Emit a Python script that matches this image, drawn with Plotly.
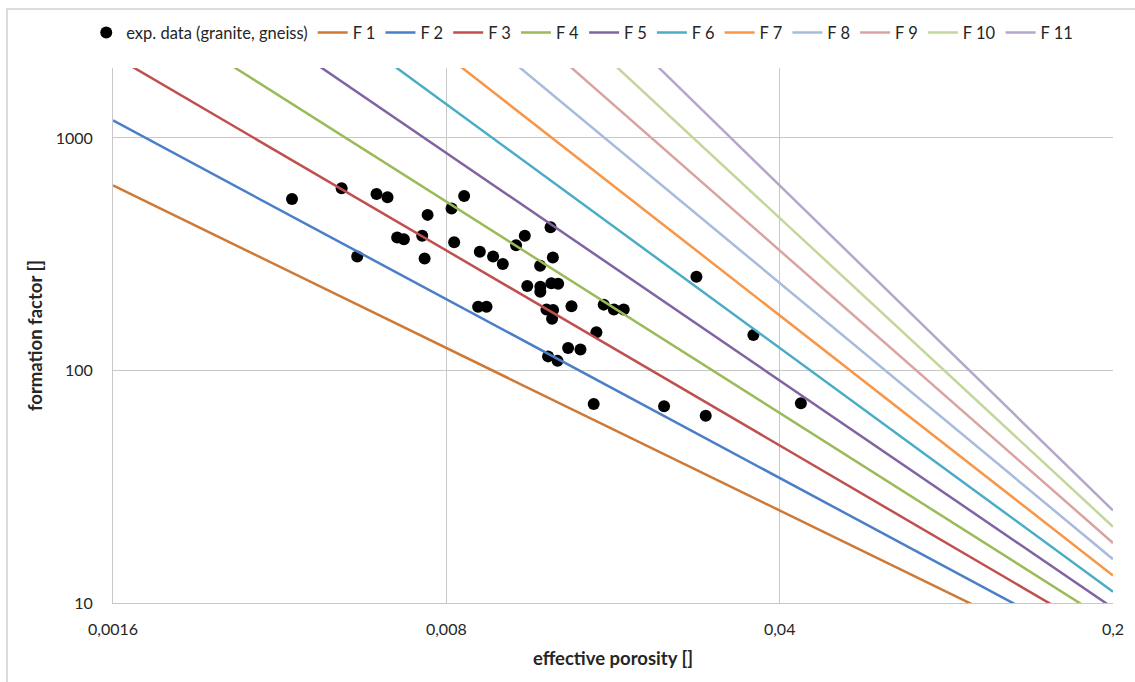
import plotly.graph_objects as go

# Measured samples: effective porosity [-] and formation factor [-]
porosity = [
    0.003797, 0.004826, 0.005711, 0.006022, 0.005203, 0.006310, 0.006517,
    0.007120, 0.007203, 0.007308, 0.008204, 0.008308, 0.008718, 0.009404,
    0.009327, 0.009713, 0.010027, 0.010508, 0.011203, 0.011684, 0.013232,
    0.013380, 0.012583, 0.011826, 0.012595, 0.012595, 0.013283, 0.013726,
    0.012974, 0.013394, 0.013330, 0.014640, 0.017103, 0.017967, 0.018838,
    0.016511, 0.014402, 0.015287, 0.013074, 0.013687, 0.016298, 0.022890,
    0.027990, 0.026762, 0.035231, 0.044316,
]
formation_factor = [
    547, 608, 574, 556, 309, 373, 367,
    380, 303, 467, 498, 356, 563, 324,
    188, 188, 309, 287, 346, 380, 413,
    306, 282, 231, 229, 218, 237, 236,
    183, 182, 167, 189, 192, 183, 183,
    146, 125, 123, 115, 110, 71.8, 70.2,
    63.9, 253, 142, 72.3,
]

# Archie-type curves F = phi^(-m), one cementation exponent per curve
curve_names = ["F 1", "F 2", "F 3", "F 4", "F 5", "F 6",
               "F 7", "F 8", "F 9", "F 10", "F 11"]
cementation_m = [1.0, 1.1, 1.2, 1.3, 1.4, 1.5, 1.6, 1.7, 1.8, 1.9, 2.0]
curve_colors = ["#CE7A36", "#4A7EC6", "#C0504D", "#9BBB59", "#8064A2",
                "#4BACC6", "#F79646", "#A7BBDD", "#D9A3A1", "#C3D69B",
                "#B5A6CB"]

# Axis extents and tick labels
phi_range = [0.0016, 0.2]
f_range = [10, 2000]
x_ticks = [0.0016, 0.008, 0.04, 0.2]
x_tick_text = ["0,0016", "0,008", "0,04", "0,2"]
y_ticks = [10, 100, 1000]
y_tick_text = ["10", "100", "1000"]

FONT = "Lato, 'Open Sans', sans-serif"
TEXT = "#262626"
GRID = "#C8C8C8"

fig = go.Figure()

fig.add_trace(go.Scatter(
    x=porosity, y=formation_factor, mode="markers",
    name="exp. data (granite, gneiss)",
    marker=dict(color="black", size=12),
))

for name, m, color in zip(curve_names, cementation_m, curve_colors):
    fig.add_trace(go.Scatter(
        x=phi_range,
        y=[p ** (-m) for p in phi_range],
        mode="lines", name=name,
        line=dict(color=color, width=2.5),
    ))

fig.update_layout(
    width=1135, height=682,
    margin=dict(l=113, r=22, t=68, b=79),
    paper_bgcolor="white", plot_bgcolor="white",
    font=dict(family=FONT, size=16, color=TEXT),
    showlegend=True,
    legend=dict(
        orientation="h", xref="container", x=0.513, xanchor="center",
        yref="container", y=0.952, yanchor="middle",
        font=dict(family=FONT, size=16.5, color=TEXT),
        itemwidth=30, bgcolor="rgba(0,0,0,0)",
    ),
    xaxis=dict(
        type="log",
        range=[-2.79588, -0.69897],
        tickvals=x_ticks, ticktext=x_tick_text,
        showgrid=True, gridcolor=GRID, gridwidth=1,
        showline=True, linecolor=GRID, linewidth=1,
        zeroline=False, ticks="", ticklabelstandoff=12,
        tickfont=dict(family=FONT, size=16, color=TEXT),
        title=dict(text="<b>effective porosity []</b>", standoff=14,
                   font=dict(family=FONT, size=18.5, color=TEXT)),
    ),
    yaxis=dict(
        type="log",
        range=[1, 3.30103],
        tickvals=y_ticks, ticktext=y_tick_text,
        showgrid=True, gridcolor=GRID, gridwidth=1,
        showline=True, linecolor=GRID, linewidth=1,
        zeroline=False, ticks="", ticklabelstandoff=16,
        tickfont=dict(family=FONT, size=16, color=TEXT),
        title=dict(text="<b>formation factor []</b>", standoff=8,
                   font=dict(family=FONT, size=18.5, color=TEXT)),
    ),
    shapes=[dict(
        type="rect", xref="paper", yref="paper",
        x0=-0.106, x1=1.2, y0=-0.3, y1=1.1103,
        line=dict(color="#D0D0D0", width=1.5), fillcolor="rgba(0,0,0,0)",
        layer="below",
    )],
)

fig.write_html("out.html")
